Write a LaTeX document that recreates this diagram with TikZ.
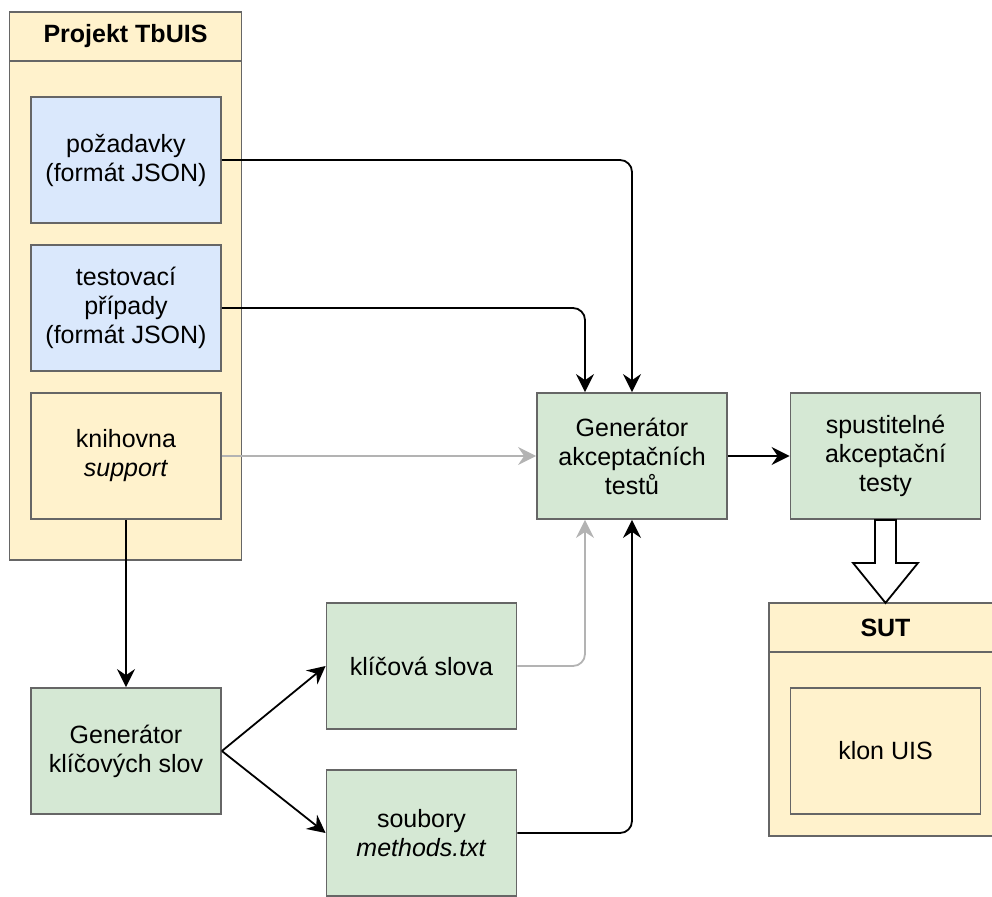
\documentclass[tikz,border=0pt]{standalone}
\usepackage{fontspec}
\setmainfont{Liberation Sans}
\usetikzlibrary{arrows.meta}
\definecolor{bfill}{HTML}{DAE8FC}
\definecolor{gfill}{HTML}{D5E8D4}
\definecolor{yfill}{HTML}{FFF2CC}
\definecolor{strk}{HTML}{666666}
\definecolor{lgray}{HTML}{B3B3B3}
\begin{document}
\begin{tikzpicture}[x=1pt,y=-1pt,
  txt/.style={font=\fontsize{25}{29}\selectfont},
  box/.style={txt, draw=strk, line width=1.8pt, minimum width=190pt, minimum height=126pt, align=center, inner sep=0pt},
  bluebox/.style={box, fill=bfill},
  greenbox/.style={box, fill=gfill},
  yellowbox/.style={box, fill=yfill},
  cont/.style={draw=strk, line width=1.8pt, fill=yfill, inner sep=0pt},
  head/.style={cont, font=\fontsize{25}{29}\selectfont\bfseries},
  conn/.style={line width=1.8pt, rounded corners=12pt, -{Stealth[length=18pt,width=18pt,inset=6pt]}},
  gconn/.style={conn, draw=lgray, color=lgray},
  blockarrow/.style={draw=black, line width=1.8pt, fill=white, line join=miter}
]
\useasboundingbox (0,0) rectangle (992,896);

% containers
\node[cont, minimum width=232pt, minimum height=548pt] (tb) at (125.5,286) {};
\node[head, minimum width=232pt, minimum height=49pt] (tbh) at (125.5,36.5) {Projekt TbUIS};
\node[cont, minimum width=233pt, minimum height=233pt] (sut) at (885.5,719.5) {};
\node[head, minimum width=233pt, minimum height=49pt] (suth) at (885.5,627.5) {SUT};

% boxes
\node[bluebox] (poz) at (126,160) {požadavky\\(formát JSON)};
\node[bluebox] (tst) at (126,308) {testovací\\případy\\(formát JSON)};
\node[yellowbox] (kni) at (126,456) {knihovna\\\textit{support}};
\node[greenbox] (gak) at (632,456) {Generátor\\akceptačních\\testů};
\node[greenbox] (spu) at (885.5,456) {spustitelné\\akceptační\\testy};
\node[yellowbox] (klon) at (885.5,751) {klon UIS};
\node[greenbox] (gk) at (126,751) {Generátor\\klíčových slov};
\node[greenbox] (kl) at (421.5,666) {klíčová slova};
\node[greenbox] (sb) at (421.5,833) {soubory\\\textit{methods.txt}};

% connectors
\draw[conn] (poz.east) -| (gak.north);
\draw[conn] (tst.east) -| ([xshift=-47pt]gak.north);
\draw[gconn] (kni.east) -- (gak.west);
\draw[conn] (gak.east) -- (spu.west);
\draw[conn] (kni.south) -- (gk.north);
\draw[conn] (gk.east) -- (kl.west);
\draw[conn] (gk.east) -- (sb.west);
\draw[gconn] (kl.east) -| ([xshift=-47pt]gak.south);
\draw[conn] (sb.east) -| (gak.south);

% block arrow
\coordinate (ba) at (spu.south);
\draw[blockarrow] ([xshift=-10.5pt]ba) -- ++(0,43) -- ++(-22,0) -- ++(32.5,40) -- ++(32.5,-40) -- ++(-22,0) -- ++(0,-43) -- cycle;
\end{tikzpicture}
\end{document}
